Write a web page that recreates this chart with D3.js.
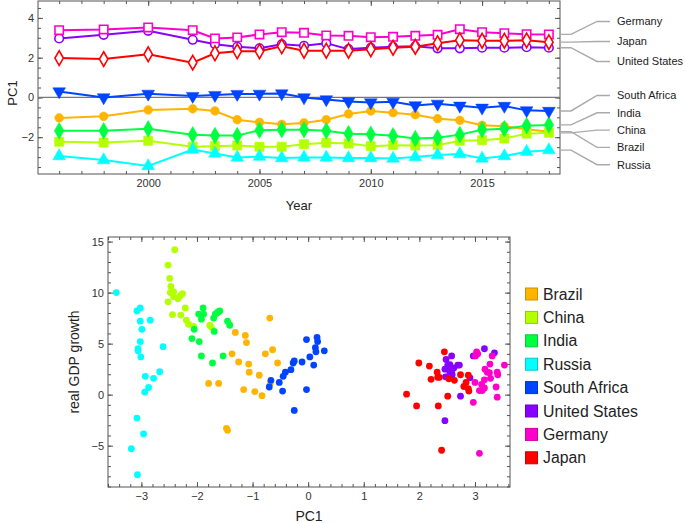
<!DOCTYPE html>
<html>
<head>
<meta charset="utf-8">
<script src="https://cdnjs.cloudflare.com/ajax/libs/d3/7.8.5/d3.min.js"></script>
<style>
  body { margin: 0; background: #fff; }
  svg { display: block; font-family: "Liberation Sans", Arial, sans-serif; }
  .axis text { fill: #333; font-size: 11px; }
  .axis line { stroke: #555; }
</style>
</head>
<body>
<div id="chart"></div>
<script>
"use strict";

// ---- top panel: PC1 by year ----
var years = [1996, 1998, 2000, 2002, 2003, 2004, 2005, 2006, 2007, 2008,
  2009, 2010, 2011, 2012, 2013, 2014, 2015, 2016, 2017, 2018];

var brazilPC1 = [-1.03, -0.95, -0.63, -0.57, -0.68, -1.12, -1.25, -1.35, -1.28, -1.12,
  -0.83, -0.68, -0.77, -0.87, -1.07, -1.15, -1.4, -1.45, -1.6, -1.72];
var chinaPC1 = [-2.23, -2.27, -2.18, -2.48, -2.45, -2.42, -2.48, -2.48, -2.35, -2.28,
  -2.32, -2.45, -2.4, -2.42, -2.4, -2.18, -2.15, -2.07, -1.82, -1.78];
var indiaPC1 = [-1.68, -1.68, -1.58, -1.88, -1.92, -1.92, -1.65, -1.62, -1.62, -1.68,
  -1.82, -1.85, -1.93, -2.07, -2.03, -1.87, -1.62, -1.57, -1.42, -1.38];
var russiaPC1 = [-2.95, -3.15, -3.45, -2.62, -2.82, -3.02, -2.98, -3.05, -3.02, -3.02,
  -3.05, -3.05, -3.07, -3.0, -2.9, -2.85, -3.07, -2.95, -2.73, -2.65];
var southAfricaPC1 = [0.3, 0.0, 0.18, 0.07, 0.12, 0.17, 0.18, 0.2, 0.0, -0.1,
  -0.2, -0.25, -0.22, -0.4, -0.32, -0.42, -0.52, -0.43, -0.65, -0.68];
var usPC1 = [2.97, 3.15, 3.35, 2.9, 2.68, 2.55, 2.47, 2.67, 2.6, 2.73,
  2.43, 2.5, 2.55, 2.57, 2.47, 2.47, 2.5, 2.5, 2.53, 2.5];
var germanyPC1 = [3.38, 3.42, 3.52, 3.38, 2.97, 3.02, 3.17, 3.28, 3.25, 3.12,
  3.1, 3.03, 3.05, 3.1, 3.15, 3.43, 3.28, 3.23, 3.18, 3.17];
var japanPC1 = [1.98, 1.93, 2.17, 1.75, 2.22, 2.32, 2.32, 2.57, 2.35, 2.35,
  2.35, 2.42, 2.5, 2.55, 2.73, 2.88, 2.85, 2.85, 2.87, 2.78];

var yearTicks = [2000, 2005, 2010, 2015];
var topPC1Ticks = [-2, 0, 2, 4];
// right-hand labels, top to bottom, in two groups
var labelsUpper = ["Germany", "Japan", "United States"];
var labelsLower = ["South Africa", "India", "China", "Brazil", "Russia"];

// ---- bottom panel: PC1 vs real GDP growth ----
var brazilGrowth = [[-0.69, 7.5], [-1.31, 6.1], [-1.13, 5.8], [-1.11, 5.1], [-1.37, 4.0],
  [-1.25, 3.2], [-1.07, 3.0], [-1.06, 2.2], [-0.88, 1.9], [-0.77, 4.0], [-0.64, 4.4],
  [-0.55, 3.1], [-1.79, 1.1], [-1.61, 1.1], [-1.16, 0.5], [-0.96, 0.3], [-0.83, -0.1],
  [-0.68, 1.1], [-1.47, -3.3], [-1.45, -3.5]];
var chinaGrowth = [[-2.40, 14.2], [-2.52, 12.7], [-2.49, 11.4], [-2.47, 10.6], [-2.48, 10.0],
  [-2.42, 10.1], [-2.42, 9.6], [-2.34, 9.4], [-2.30, 9.7], [-2.26, 9.9], [-2.52, 9.1],
  [-2.44, 7.85], [-2.29, 7.8], [-2.21, 8.5], [-2.19, 7.3], [-2.15, 6.9], [-2.06, 6.7],
  [-1.77, 6.8], [-1.74, 6.6]];
var indiaGrowth = [[-1.89, 8.5], [-1.97, 7.9], [-1.88, 7.9], [-1.92, 7.4], [-1.67, 7.9],
  [-1.64, 8.0], [-1.59, 8.2], [-1.70, 7.5], [-1.45, 7.2], [-1.41, 6.8], [-2.05, 6.4],
  [-1.69, 6.2], [-2.09, 5.5], [-1.96, 5.2], [-1.92, 3.8], [-1.53, 3.8], [-1.72, 3.1],
  [-1.62, 8.1]];
var russiaGrowth = [[-3.45, 10.0], [-3.08, 8.2], [-3.02, 8.5], [-3.02, 7.2], [-2.84, 7.3],
  [-2.99, 6.4], [-3.02, 5.2], [-3.06, 4.5], [-3.06, 4.3], [-3.01, 3.7], [-2.61, 4.7],
  [-2.93, 1.8], [-2.78, 1.6], [-2.67, 2.25], [-2.87, 0.7], [-2.94, 0.25], [-3.08, -2.3],
  [-2.96, -3.85], [-3.18, -5.3], [-3.07, -7.85]];
var southAfricaGrowth = [[-0.03, 5.4], [0.16, 5.6], [0.17, 5.2], [0.13, 4.6], [0.14, 4.2],
  [0.29, 4.3], [0.03, 3.7], [-0.11, 3.2], [0.10, 2.9], [-0.25, 3.3], [-0.27, 3.1],
  [-0.31, 2.45], [-0.41, 2.2], [-0.45, 1.8], [-0.52, 1.2], [-0.67, 1.4], [-0.70, 0.75],
  [-0.46, 0.35], [-0.03, 0.5], [-0.25, -1.55]];
var usGrowth = [[2.58, 3.8], [2.48, 3.45], [2.51, 2.9], [2.55, 2.95], [2.69, 2.9],
  [2.72, 2.9], [2.46, 2.5], [2.52, 2.55], [2.58, 2.2], [2.59, 1.95], [2.47, 1.75],
  [2.53, 1.8], [3.17, 4.5], [3.35, 4.1], [2.97, 3.8], [2.91, 1.65], [2.74, -0.15],
  [2.46, -2.55], [2.55, 2.25], [2.62, 2.6]];
var germanyGrowth = [[3.03, 4.2], [3.05, 4.0], [3.01, 3.8], [3.31, 3.8], [3.53, 2.9],
  [3.18, 2.5], [3.22, 2.2], [3.26, 2.15], [3.27, 3.0], [3.40, 2.2], [3.41, 1.95],
  [3.28, 1.6], [3.17, 1.45], [3.0, 1.2], [3.12, 1.0], [3.17, 0.65], [3.08, 0.4],
  [3.13, 0.4], [3.38, 0.75], [3.40, -0.25], [2.97, -0.75], [3.08, -5.75]];
var japanGrowth = [[2.45, 4.2], [1.99, 3.1], [2.18, 2.8], [2.32, 2.2], [2.33, 1.7],
  [2.36, 1.7], [2.21, 1.5], [2.53, 1.55], [2.63, 1.4], [2.74, 1.95], [2.88, 1.9],
  [2.84, 1.2], [2.80, 0.8], [2.88, 0.6], [2.89, 0.35], [2.51, -0.15], [1.77, 0.05],
  [1.95, -1.1], [2.34, -1.1], [2.40, -5.45]];

var pc1Ticks = [-3, -2, -1, 0, 1, 2, 3];
var growthTicks = [-5, 0, 5, 10, 15];

var countries = [
  { name: "Brazil", color: "#ffb400", marker: "circle", open: false, pc1: brazilPC1, growth: brazilGrowth },
  { name: "China", color: "#b4ff00", marker: "square", open: false, pc1: chinaPC1, growth: chinaGrowth },
  { name: "India", color: "#00ff40", marker: "diamond", open: false, pc1: indiaPC1, growth: indiaGrowth },
  { name: "Russia", color: "#00ffff", marker: "triangleUp", open: false, pc1: russiaPC1, growth: russiaGrowth },
  { name: "South Africa", color: "#0044ff", marker: "triangleDown", open: false, pc1: southAfricaPC1, growth: southAfricaGrowth },
  { name: "United States", color: "#8800ff", marker: "circle", open: true, pc1: usPC1, growth: usGrowth },
  { name: "Germany", color: "#ff00cc", marker: "square", open: true, pc1: germanyPC1, growth: germanyGrowth },
  { name: "Japan", color: "#ff0000", marker: "diamond", open: true, pc1: japanPC1, growth: japanGrowth }
];

var svg = d3.select("#chart").append("svg")
  .attr("width", 685)
  .attr("height", 523);

drawTop(svg);
drawScatter(svg);

function frameAxes(g, x, y, opts) {
  // frame ticks on all four sides, pointing inward
  g.append("g").attr("class", "axis")
    .attr("transform", "translate(0," + y.range()[0] + ")")
    .call(d3.axisBottom(x).tickValues(opts.xMinor).tickSize(-3).tickFormat(""));
  g.append("g").attr("class", "axis")
    .attr("transform", "translate(0," + y.range()[0] + ")")
    .call(d3.axisBottom(x).tickValues(opts.xTicks).tickSize(-5).tickPadding(5).tickFormat(opts.xFormat));
  g.append("g").attr("class", "axis")
    .attr("transform", "translate(0," + y.range()[1] + ")")
    .call(d3.axisTop(x).tickValues(opts.xMinor).tickSize(-3).tickFormat(""));
  g.append("g").attr("class", "axis")
    .attr("transform", "translate(0," + y.range()[1] + ")")
    .call(d3.axisTop(x).tickValues(opts.xTicks).tickSize(-5).tickFormat(""));

  g.append("g").attr("class", "axis")
    .attr("transform", "translate(" + x.range()[0] + ",0)")
    .call(d3.axisLeft(y).tickValues(opts.yMinor).tickSize(-3).tickFormat(""));
  g.append("g").attr("class", "axis")
    .attr("transform", "translate(" + x.range()[0] + ",0)")
    .call(d3.axisLeft(y).tickValues(opts.yTicks).tickSize(-5).tickPadding(4));
  g.append("g").attr("class", "axis")
    .attr("transform", "translate(" + x.range()[1] + ",0)")
    .call(d3.axisRight(y).tickValues(opts.yMinor).tickSize(-3).tickFormat(""));
  g.append("g").attr("class", "axis")
    .attr("transform", "translate(" + x.range()[1] + ",0)")
    .call(d3.axisRight(y).tickValues(opts.yTicks).tickSize(-5).tickFormat(""));

  g.selectAll(".axis .domain").remove();

  g.append("rect")
    .attr("x", x.range()[0])
    .attr("y", y.range()[1])
    .attr("width", x.range()[1] - x.range()[0])
    .attr("height", y.range()[0] - y.range()[1])
    .style("fill", "none")
    .style("stroke", "#555")
    .style("stroke-width", 1);
}

function symbolFor(c) {
  if (c.marker === "circle") return d3.symbol(d3.symbolCircle, c.open ? 58 : 60);
  if (c.marker === "square") return d3.symbol(d3.symbolSquare, c.open ? 70 : 85);
  if (c.marker === "diamond") return d3.symbol(d3.symbolDiamond, c.open ? 62 : 80);
  return d3.symbol(d3.symbolTriangle, 70);
}

function drawTop(svg) {
  var x = d3.scaleLinear().domain([1995.05, 2018.5]).range([38, 560]);
  var y = d3.scaleLinear().domain([-3.85, 4.85]).range([174, 1]);
  var g = svg.append("g");

  var xMinor = d3.range(1996, 2019);
  var yMinor = d3.range(-3.5, 4.8, 0.5);
  frameAxes(g, x, y, {
    xTicks: yearTicks, xMinor: xMinor, xFormat: d3.format("d"),
    yTicks: topPC1Ticks, yMinor: yMinor
  });

  g.append("line")
    .attr("x1", x.range()[0]).attr("x2", x.range()[1])
    .attr("y1", y(0)).attr("y2", y(0))
    .style("stroke", "#777")
    .style("stroke-width", 1.3);

  var line = d3.line()
    .x(function(d) { return x(d.year); })
    .y(function(d) { return y(d.v); });

  countries.forEach(function(c) {
    var pts = years.map(function(yr, i) { return { year: yr, v: c.pc1[i] }; });
    g.append("path")
      .datum(pts)
      .attr("d", line)
      .style("fill", "none")
      .style("stroke", c.color)
      .style("stroke-width", 2);

    var sym = symbolFor(c);
    g.selectAll(null)
      .data(pts)
      .enter()
      .append("path")
      .attr("d", sym)
      .attr("transform", function(d) {
        var t = "translate(" + x(d.year) + "," + y(d.v) + ")";
        if (c.marker === "triangleDown") t += " rotate(180)";
        return t;
      })
      .style("fill", c.open ? "#fff" : c.color)
      .style("stroke", c.color)
      .style("stroke-width", c.open ? 1.6 : 0.5);
  });

  // callout labels on the right
  var byName = {};
  countries.forEach(function(c) { byName[c.name] = c; });
  placeLabels(labelsUpper, 20);
  placeLabels(labelsLower, 17.3);

  function placeLabels(names, gap) {
    var ends = names.map(function(n) { return y(byName[n].pc1[years.length - 1]); });
    var mid = d3.mean(ends);
    names.forEach(function(n, i) {
      var ly = mid + (i - (names.length - 1) / 2) * gap;
      g.append("path")
        .attr("d", "M" + (x.range()[1] + 1) + "," + ends[i] +
          "L" + (x.range()[1] + 11) + "," + ends[i] +
          "L597," + ly + "L610," + ly)
        .style("fill", "none")
        .style("stroke", "#aaa")
        .style("stroke-width", 1.4);
      g.append("text")
        .attr("x", 617)
        .attr("y", ly)
        .attr("dy", "0.35em")
        .style("font-size", "11px")
        .style("fill", "#222")
        .text(n);
    });
  }

  g.append("text")
    .attr("transform", "translate(12,93) rotate(-90)")
    .attr("text-anchor", "middle")
    .attr("dy", "0.35em")
    .style("font-size", "13px")
    .style("fill", "#222")
    .text("PC1");

  g.append("text")
    .attr("x", (x.range()[0] + x.range()[1]) / 2)
    .attr("y", 205)
    .attr("text-anchor", "middle")
    .attr("dy", "0.35em")
    .style("font-size", "13px")
    .style("fill", "#222")
    .text("Year");
}

function drawScatter(svg) {
  var x = d3.scaleLinear().domain([-3.6, 3.63]).range([108, 510]);
  var y = d3.scaleLinear().domain([-9.05, 15.45]).range([487, 237]);
  var g = svg.append("g");

  frameAxes(g, x, y, {
    xTicks: pc1Ticks, xMinor: d3.range(-3.6, 3.65, 0.2), xFormat: d3.format(""),
    yTicks: growthTicks, yMinor: d3.range(-9, 15.5, 1)
  });

  countries.forEach(function(c) {
    g.selectAll(null)
      .data(c.growth)
      .enter()
      .append("circle")
      .attr("cx", function(d) { return x(d[0]); })
      .attr("cy", function(d) { return y(d[1]); })
      .attr("r", 3.4)
      .style("fill", c.color);
  });

  g.append("text")
    .attr("transform", "translate(74," + ((y.range()[0] + y.range()[1]) / 2) + ") rotate(-90)")
    .attr("text-anchor", "middle")
    .attr("dy", "0.35em")
    .style("font-size", "14px")
    .style("fill", "#222")
    .text("real GDP growth");

  g.append("text")
    .attr("x", (x.range()[0] + x.range()[1]) / 2)
    .attr("y", 516)
    .attr("text-anchor", "middle")
    .attr("dy", "0.35em")
    .style("font-size", "14px")
    .style("fill", "#222")
    .text("PC1");

  var legend = g.append("g").attr("transform", "translate(525,294)");
  var item = legend.selectAll("g")
    .data(countries)
    .enter()
    .append("g")
    .attr("transform", function(d, i) { return "translate(0," + i * 23.4 + ")"; });
  item.append("rect")
    .attr("x", 0.5).attr("y", -6)
    .attr("width", 12).attr("height", 12)
    .style("fill", function(d) { return d.color; })
    .style("stroke", function(d) { return d3.color(d.color).darker(0.6); })
    .style("stroke-width", 1);
  item.append("text")
    .attr("x", 18)
    .attr("dy", "0.35em")
    .style("font-size", "15.8px")
    .style("fill", "#222")
    .text(function(d) { return d.name; });
}
</script>
</body>
</html>
